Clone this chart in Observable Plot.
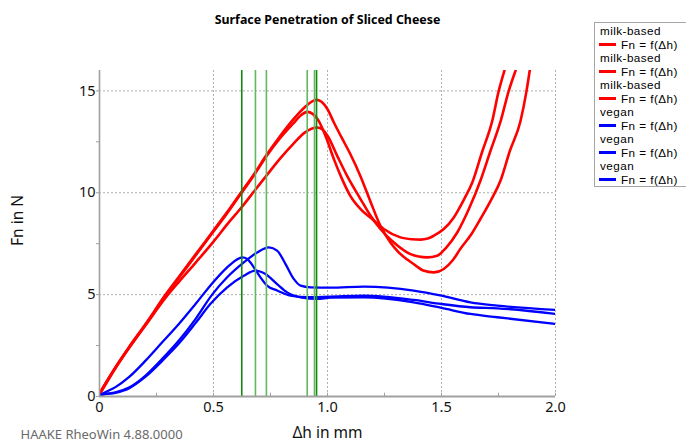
<!DOCTYPE html>
<html>
<head>
<meta charset="utf-8">
<script src="https://cdn.jsdelivr.net/npm/d3@7"></script>
<script src="https://cdn.jsdelivr.net/npm/@observablehq/plot@0.6"></script>
<style>
  html, body { margin: 0; padding: 0; background: #fff; overflow: hidden; }
  #wrap { position: relative; width: 686px; height: 444px; font-family: "Noto Sans", "Open Sans", sans-serif; }
  #legend { position: absolute; left: 594px; top: 22px; width: 93px; height: 165px; box-sizing: border-box;
            border: 1.5px solid #a6a6a6; background: #fff; padding-top: 1px;
            font-family: "Liberation Sans", Arial, sans-serif; font-size: 11.7px; letter-spacing: 0.45px; line-height: 13.5px; color: #000; }
  #legend .name { padding-left: 5px; white-space: nowrap; height: 13.5px; }
  #legend .item { padding-left: 4px; white-space: nowrap; display: flex; align-items: center; height: 13.5px; }
  #legend .sw { display: inline-block; width: 17px; height: 2.5px; margin-right: 5px; }
</style>
</head>
<body>
<div id="wrap"></div>
<script>
// ---- chart text ----
const chartTitle = "Surface Penetration of Sliced Cheese";
const xLabel = "Δh in mm";
const yLabel = "Fn in N";
const footer = "HAAKE RheoWin 4.88.0000";

// ---- ticks ----
const xTicks = [0, 0.5, 1, 1.5, 2];
const xTickLabels = ["0", "0.5", "1.0", "1.5", "2.0"];
const xMinor = [0.25, 0.75, 1.25, 1.75];
const yTicks = [0, 5, 10, 15];
const yTickLabels = ["0", "5", "10", "15"];
const yMinor = [2.5, 7.5, 12.5];
const xGrid = [0.5, 1, 1.5, 2];
const yGrid = [5, 10, 15];

// ---- legend ----
const seriesNames = ["milk-based", "milk-based", "milk-based", "vegan", "vegan", "vegan"];
const seriesLabel = "Fn = f(Δh)";
const seriesColors = ["#ff0000", "#ff0000", "#ff0000", "#0000ff", "#0000ff", "#0000ff"];

// ---- marker lines (Δh positions) ----
const markerX = [0.624, 0.684, 0.732, 0.911, 0.943, 0.952];
const markerColors = ["#128a12", "#62b862", "#62b862", "#62b862", "#62b862", "#128a12"];

// ---- series data [Δh mm, Fn N] ----
const milk1 = [[0,0.13],[0.035,0.8],[0.07,1.44],[0.129,2.42],[0.202,3.56],[0.29,5.0],[0.35,5.9],[0.42,6.95],[0.5,8.15],[0.56,9.05],[0.62,10.0],[0.68,10.95],[0.733,11.86],[0.79,12.75],[0.85,13.6],[0.9,14.2],[0.935,14.5],[0.955,14.56],[0.975,14.45],[1.0,14.1],[1.028,13.45],[1.06,12.75],[1.1,11.9],[1.145,10.8],[1.189,9.55],[1.232,8.38],[1.276,7.56],[1.31,7.1],[1.35,6.72],[1.39,6.4],[1.42,6.18],[1.466,6.09],[1.51,6.26],[1.55,6.7],[1.583,7.25],[1.63,7.95],[1.67,8.7],[1.72,9.7],[1.759,10.6],[1.80,12.06],[1.846,13.5],[1.873,15],[1.887,16]];
const milk2 = [[0,0.1],[0.035,0.75],[0.07,1.4],[0.129,2.38],[0.202,3.52],[0.29,4.95],[0.35,5.85],[0.42,6.9],[0.5,8.1],[0.56,9.0],[0.62,9.95],[0.68,10.9],[0.733,11.8],[0.79,12.65],[0.85,13.4],[0.885,13.82],[0.911,13.97],[0.935,13.87],[0.96,13.55],[0.991,12.8],[1.028,11.65],[1.064,10.67],[1.10,9.85],[1.145,9.2],[1.196,8.71],[1.247,8.22],[1.32,7.81],[1.37,7.72],[1.408,7.70],[1.44,7.75],[1.466,7.89],[1.51,8.22],[1.554,8.79],[1.60,9.7],[1.635,10.5],[1.678,12.0],[1.722,13.5],[1.751,15],[1.776,16]];
const milk3 = [[0,0.15],[0.035,0.8],[0.07,1.4],[0.129,2.38],[0.202,3.5],[0.29,4.85],[0.35,5.65],[0.42,6.55],[0.5,7.6],[0.56,8.45],[0.628,9.35],[0.68,10.1],[0.733,10.85],[0.79,11.65],[0.85,12.4],[0.9,12.95],[0.955,13.2],[0.978,13.1],[1.0,12.8],[1.043,11.8],[1.086,10.83],[1.145,9.69],[1.189,8.87],[1.232,8.22],[1.291,7.56],[1.364,6.99],[1.40,6.87],[1.437,6.83],[1.481,6.91],[1.52,7.3],[1.569,8.05],[1.62,9.2],[1.671,10.6],[1.715,12.06],[1.759,13.5],[1.795,15],[1.825,16]];
const vegan1 = [[0,0.05],[0.012,0.13],[0.07,0.46],[0.129,0.95],[0.202,1.76],[0.275,2.66],[0.348,3.56],[0.421,4.54],[0.494,5.55],[0.56,6.34],[0.6,6.7],[0.626,6.83],[0.648,6.75],[0.677,6.34],[0.706,5.85],[0.735,5.44],[0.779,5.2],[0.838,4.95],[0.911,4.87],[1.013,4.9],[1.16,4.95],[1.378,4.74],[1.5,4.54],[1.627,4.38],[1.745,4.33],[2.0,4.05]];
const vegan2 = [[0,0.02],[0.012,0.1],[0.07,0.2],[0.129,0.44],[0.202,1.03],[0.275,1.85],[0.348,2.75],[0.421,3.8],[0.494,5.0],[0.56,5.85],[0.633,6.58],[0.692,7.07],[0.743,7.32],[0.779,7.16],[0.816,6.5],[0.852,5.77],[0.882,5.44],[0.925,5.36],[1.013,5.34],[1.16,5.39],[1.378,5.2],[1.5,4.95],[1.627,4.62],[1.745,4.46],[2.0,4.25]];
const vegan3 = [[0,0.02],[0.012,0.08],[0.07,0.18],[0.129,0.4],[0.202,0.97],[0.275,1.75],[0.348,2.6],[0.421,3.6],[0.487,4.55],[0.56,5.36],[0.633,5.93],[0.684,6.18],[0.728,6.01],[0.779,5.52],[0.823,5.11],[0.882,4.87],[0.955,4.79],[1.013,4.85],[1.16,4.87],[1.378,4.62],[1.5,4.35],[1.627,4.05],[1.745,3.89],[2.0,3.56]];

const seriesData = [milk1, milk2, milk3, vegan1, vegan2, vegan3];

const FONT = '"Noto Sans", "Open Sans", sans-serif';
const AX = "#a0a0a0";

const lineMarks = seriesData.map((s, i) =>
  Plot.line(s, {x: d => d[0], y: d => d[1], stroke: seriesColors[i], strokeWidth: i < 3 ? 2.6 : 2.3, curve: "monotone-x", clip: true})
);

const chart = Plot.plot({
  width: 686,
  height: 444,
  marginLeft: 99,
  marginRight: 131,
  marginTop: 70,
  marginBottom: 48,
  style: {fontFamily: FONT, background: "transparent", overflow: "visible"},
  x: {domain: [0, 2]},
  y: {domain: [0, 16]},
  marks: [
    Plot.gridX(xGrid, {stroke: "#9a9a9a", strokeOpacity: 1, strokeDasharray: "2,2", strokeWidth: 0.8}),
    Plot.gridY(yGrid, {stroke: "#9a9a9a", strokeOpacity: 1, strokeDasharray: "2,2", strokeWidth: 0.8}),
    Plot.axisY(yTicks, {tickSize: 3, tickPadding: 1, fontSize: 14.5, stroke: AX, fill: "#111", tickFormat: d => yTickLabels[yTicks.indexOf(d)], label: null}),
    Plot.axisY(yMinor, {tickSize: 3, stroke: AX, tickFormat: () => "", label: null}),
    Plot.axisX(xTicks, {tickSize: 0, tickPadding: 5, fontSize: 14.5, fill: "#111", tickFormat: d => xTickLabels[xTicks.indexOf(d)], label: null}),
    Plot.ruleX(xTicks.concat(xMinor), {y1: 0, y2: 0.16, stroke: AX, strokeWidth: 1}),
    ...lineMarks,
    Plot.ruleX(markerX, {stroke: (d, i) => markerColors[i], strokeWidth: 1.6}),
    Plot.ruleY([0], {stroke: AX, strokeWidth: 2}),
    Plot.ruleX([0], {stroke: AX, strokeWidth: 1.6}),
    Plot.text([chartTitle], {text: d => d, frameAnchor: "top", lineAnchor: "middle", dy: -50, fontWeight: "bold", fontSize: 12.4, fill: "#000"}),
    Plot.text([xLabel], {text: d => d, frameAnchor: "bottom", lineAnchor: "middle", dy: 37, fontSize: 15.5, fill: "#111"}),
    Plot.text([yLabel], {text: d => d, frameAnchor: "left", textAnchor: "middle", lineAnchor: "middle", dx: -81, dy: -13, rotate: -90, fontSize: 15.5, fill: "#111"}),
    Plot.text([footer], {text: d => d, frameAnchor: "bottom-left", textAnchor: "start", lineAnchor: "middle", dx: -79, dy: 38, fontSize: 13, fill: "#6a6a6a"})
  ]
});

const wrap = document.getElementById("wrap");
wrap.appendChild(chart);

// legend
const lg = document.createElement("div");
lg.id = "legend";
seriesNames.forEach((n, i) => {
  const a = document.createElement("div");
  a.className = "name";
  a.textContent = n;
  const b = document.createElement("div");
  b.className = "item";
  const sw = document.createElement("span");
  sw.className = "sw";
  sw.style.background = seriesColors[i];
  b.appendChild(sw);
  b.appendChild(document.createTextNode(seriesLabel));
  lg.appendChild(a);
  lg.appendChild(b);
});
wrap.appendChild(lg);
</script>
</body>
</html>
